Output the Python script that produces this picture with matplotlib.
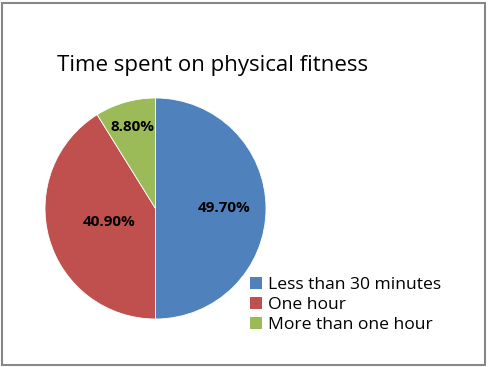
"""Pie chart: time spent on physical fitness."""

import matplotlib
matplotlib.use("Agg")
import matplotlib.pyplot as plt
import numpy as np
from matplotlib.patches import Patch, Rectangle

TITLE = "Time spent on physical fitness"
CATEGORIES = ["Less than 30 minutes", "One hour", "More than one hour"]
SHARES = [49.7, 40.9, 8.8]
LABELS = ["49.70%", "40.90%", "8.80%"]
COLORS = ["#4F81BD", "#C0504D", "#9BBB59"]
# label distance from centre, as a fraction of the radius
LABEL_RADII = [0.62, 0.44, 0.77]

W, H = 488, 367
plt.rcParams["font.family"] = ["Open Sans", "DejaVu Sans"]

fig = plt.figure(figsize=(W / 100, H / 100), dpi=100)

# outer grey frame
fig.patches.append(Rectangle((2 / W, 2 / H), (W - 5) / W, (H - 5) / H,
                             transform=fig.transFigure, fill=False,
                             edgecolor="#878787", linewidth=1.5))

cx, cy, r = 155.5, 208.5, 110.5
ax = fig.add_axes([(cx - r) / W, (H - cy - r) / H, 2 * r / W, 2 * r / H])
wedges, texts = ax.pie(SHARES, colors=COLORS, startangle=90, counterclock=False,
                       labels=LABELS, labeldistance=0.6,
                       wedgeprops=dict(edgecolor="white", linewidth=0.6))
for w, t, d in zip(wedges, texts, LABEL_RADII):
    ang = np.deg2rad((w.theta1 + w.theta2) / 2)
    t.set_position((d * np.cos(ang), d * np.sin(ang)))
    t.set_ha("center")
    t.set_va("center")
    t.set_fontsize(11)
    t.set_fontweight("bold")
ax.set_xlim(-1, 1)
ax.set_ylim(-1, 1)

fig.text(57 / W, 1 - 65 / H, TITLE, fontsize=16, va="center", ha="left")

handles = [Patch(facecolor=c, edgecolor="none") for c in COLORS]
fig.legend(handles, CATEGORIES, loc="upper left",
           bbox_to_anchor=(243 / W, 1 - 270 / H), frameon=False,
           fontsize=12.6, handlelength=0.7, handleheight=0.7,
           handletextpad=0.3, labelspacing=0.22, borderaxespad=0)

fig.savefig("out.png", dpi=100)
